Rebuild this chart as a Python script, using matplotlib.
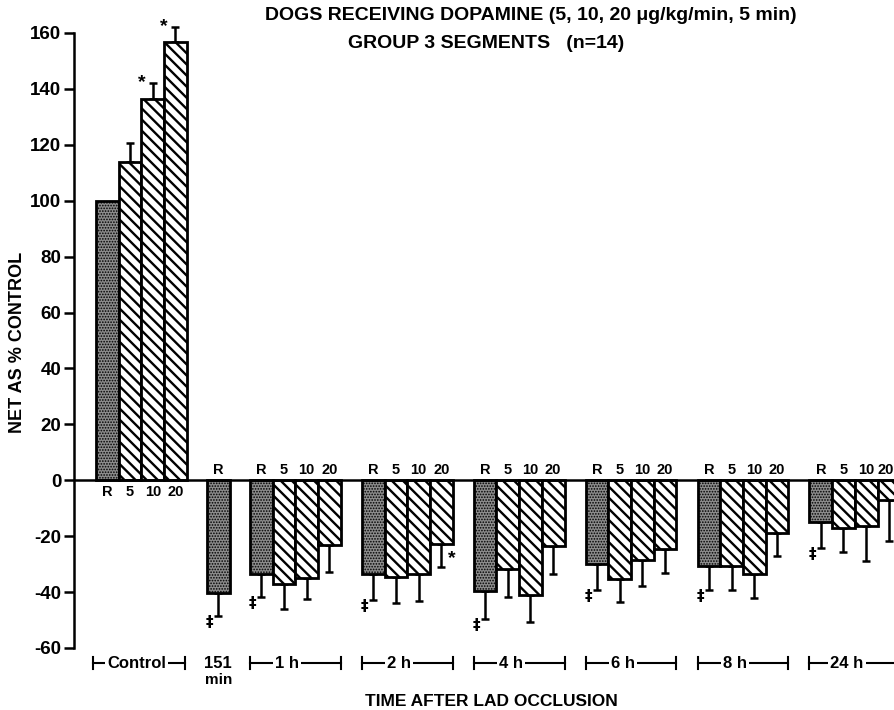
import matplotlib
matplotlib.use('Agg')
import matplotlib.pyplot as plt
import matplotlib.transforms as mtransforms

plt.rcParams['font.family'] = ['Liberation Sans', 'DejaVu Sans']
plt.rcParams['font.weight'] = 'bold'
plt.rcParams['hatch.linewidth'] = 1.7

# ---------------- data ----------------
doses = ['R', '5', '10', '20']
control_vals = [100, 113.7, 136.5, 156.9]
control_err = [0, 7.1, 5.7, 5.1]
min151_vals = [-40.5]
min151_err = [8.0]
time_labels = ['1 h', '2 h', '4 h', '6 h', '8 h', '24 h']
h1_vals = [-33.7, -37.0, -34.9, -23.0]
h1_err = [8.0, 8.9, 7.7, 9.9]
h2_vals = [-33.7, -34.7, -33.7, -22.8]
h2_err = [9.2, 9.3, 9.5, 8.3]
h4_vals = [-39.7, -31.7, -40.9, -23.6]
h4_err = [10.1, 10.1, 9.8, 10.1]
h6_vals = [-29.8, -35.2, -28.6, -24.5]
h6_err = [9.3, 8.4, 9.3, 8.6]
h8_vals = [-30.5, -30.5, -33.5, -18.9]
h8_err = [8.6, 8.6, 8.5, 8.3]
h24_vals = [-15.1, -17.1, -16.2, -7.0]
h24_err = [9.1, 8.7, 12.6, 14.9]
yticks = [-60, -40, -20, 0, 20, 40, 60, 80, 100, 120, 140, 160]
# significance marks: (group index, bar index)
asterisk_marks = [(0, 2), (0, 3), (3, 3)]
dagger_groups = [1, 2, 3, 4, 5, 6, 7]

timed_vals = [h1_vals, h2_vals, h4_vals, h6_vals, h8_vals, h24_vals]
timed_err = [h1_err, h2_err, h4_err, h6_err, h8_err, h24_err]

# ---------------- layout ----------------
W, H, DPI = 8.95, 7.10, 100
fig = plt.figure(figsize=(W, H), dpi=DPI)
ax = fig.add_axes([74 / 895, (710 - 648) / 710, 1 - 74 / 895, (648 - 5) / 710])
ax.set_ylim(-60, 170)
ax.set_xlim(-0.97, 35.2)

group_starts = [0.0, 4.89] + [6.78 + k * 4.93 for k in range(6)]
group_vals = [control_vals, min151_vals] + timed_vals
group_errs = [control_err, min151_err] + timed_err

STIPPLE = dict(facecolor='#8c8c8c', edgecolor='black', hatch='......')
STRIPE = dict(facecolor='white', edgecolor='black', hatch='\\\\\\')

trans = mtransforms.blended_transform_factory(ax.transData, fig.transFigure)
xfig = mtransforms.blended_transform_factory(fig.transFigure, ax.transData)

bar_centers = []
for gi, (s, vals, errs) in enumerate(zip(group_starts, group_vals, group_errs)):
    centers = []
    for bi, (v, e) in enumerate(zip(vals, errs)):
        style = STIPPLE if bi == 0 else STRIPE
        bars = ax.bar(s + bi, v, width=1.0, align='edge', linewidth=2.0, zorder=2, **style)
        if bi == 0 and hasattr(bars[0], 'set_hatch_linewidth'):
            bars[0].set_hatch_linewidth(0.8)
        c = s + bi + 0.5
        centers.append(c)
        if e > 0:
            if v >= 0:
                yerr = [[0], [e]]
            else:
                yerr = [[e], [0]]
            ax.errorbar([c], [v], yerr=yerr, fmt='none', ecolor='black',
                        elinewidth=1.8, capsize=3.2, capthick=1.8, zorder=1, clip_on=False)
        # dose labels
        if gi == 0:
            ax.text(c, -4.3, doses[bi], ha='center', va='center', fontsize=10.5, fontweight='bold')
        elif gi == len(group_starts) - 1 and bi == 3:
            # last label sits at the right figure edge
            ax.text(0.999, 3.5, doses[bi], transform=xfig, ha='right', va='center',
                    fontsize=10.5, fontweight='bold')
        else:
            ax.text(c, 3.5, doses[bi], ha='center', va='center', fontsize=10.5, fontweight='bold')
    bar_centers.append(centers)

# zero line and axes
ax.axhline(0, color='black', lw=1.8, zorder=3)
for sp in ['top', 'right', 'bottom']:
    ax.spines[sp].set_visible(False)
ax.spines['left'].set_bounds(-60, 160)
ax.spines['left'].set_linewidth(1.8)
ax.set_yticks(yticks)
ax.set_yticklabels([str(t) for t in yticks], fontsize=13.5, fontweight='bold')
ax.tick_params(axis='y', direction='out', length=7, width=1.8, pad=2)
ax.set_xticks([])

# significance marks
for gi, bi in asterisk_marks:
    v = group_vals[gi][bi]
    e = group_errs[gi][bi]
    c = bar_centers[gi][bi]
    if v >= 0:
        ax.text(c - 0.5, v + e + 0.2, '*', ha='center', va='center', fontsize=14,
                fontweight='bold', clip_on=False)
    else:
        ax.text(c + 0.45, v - e + 3.0, '*', ha='center', va='center', fontsize=14,
                fontweight='bold')
for gi in dagger_groups:
    v = group_vals[gi][0]
    e = group_errs[gi][0]
    c = bar_centers[gi][0]
    ax.text(c - 0.38, v - e - 2.3, '‡', ha='center', va='center', fontsize=11,
            fontweight='bold', family=['DejaVu Sans'])

# group brackets below axis
yb = (710 - 663) / 710
tick_h = 6 / 710

def bracket(s, e, label, tx):
    ax.plot([s, e], [yb, yb], transform=trans, color='black', lw=1.5, clip_on=False)
    for xx in (s, e):
        ax.plot([xx, xx], [yb - tick_h, yb + tick_h], transform=trans, color='black',
                lw=1.5, clip_on=False)
    ax.text(tx, yb, label, transform=trans, ha='center', va='center', fontsize=12,
            fontweight='bold', clip_on=False,
            bbox=dict(facecolor='white', edgecolor='none', pad=1.5))

bracket(group_starts[0] - 0.13, group_starts[0] + 3.93, 'Control', group_starts[0] + 1.8)
for k, lab in enumerate(time_labels):
    s = group_starts[2 + k]
    bracket(s, s + 4.0, lab, s + 1.65)
c151 = bar_centers[1][0]
ax.text(c151, yb, '151', transform=trans, ha='center', va='center', fontsize=12, fontweight='bold')
ax.text(c151, (710 - 680) / 710, 'min', transform=trans, ha='center', va='center',
        fontsize=11, fontweight='bold')

# titles and axis labels
fig.text(531 / 895, 1 - 16 / 710, 'DOGS RECEIVING DOPAMINE (5, 10, 20 μg/kg/min, 5 min)',
         ha='center', va='center', fontsize=14, fontweight='bold')
fig.text(486 / 895, 1 - 43 / 710, 'GROUP 3 SEGMENTS   (n=14)',
         ha='center', va='center', fontsize=14, fontweight='bold')
fig.text(18 / 895, 1 - 342 / 710, 'NET AS % CONTROL', rotation=90, ha='center', va='center',
         fontsize=13, fontweight='bold')
fig.text(491 / 895, 1 - 701 / 710, 'TIME AFTER LAD OCCLUSION', ha='center', va='center',
         fontsize=12.5, fontweight='bold')

fig.savefig('out.png', dpi=DPI)
